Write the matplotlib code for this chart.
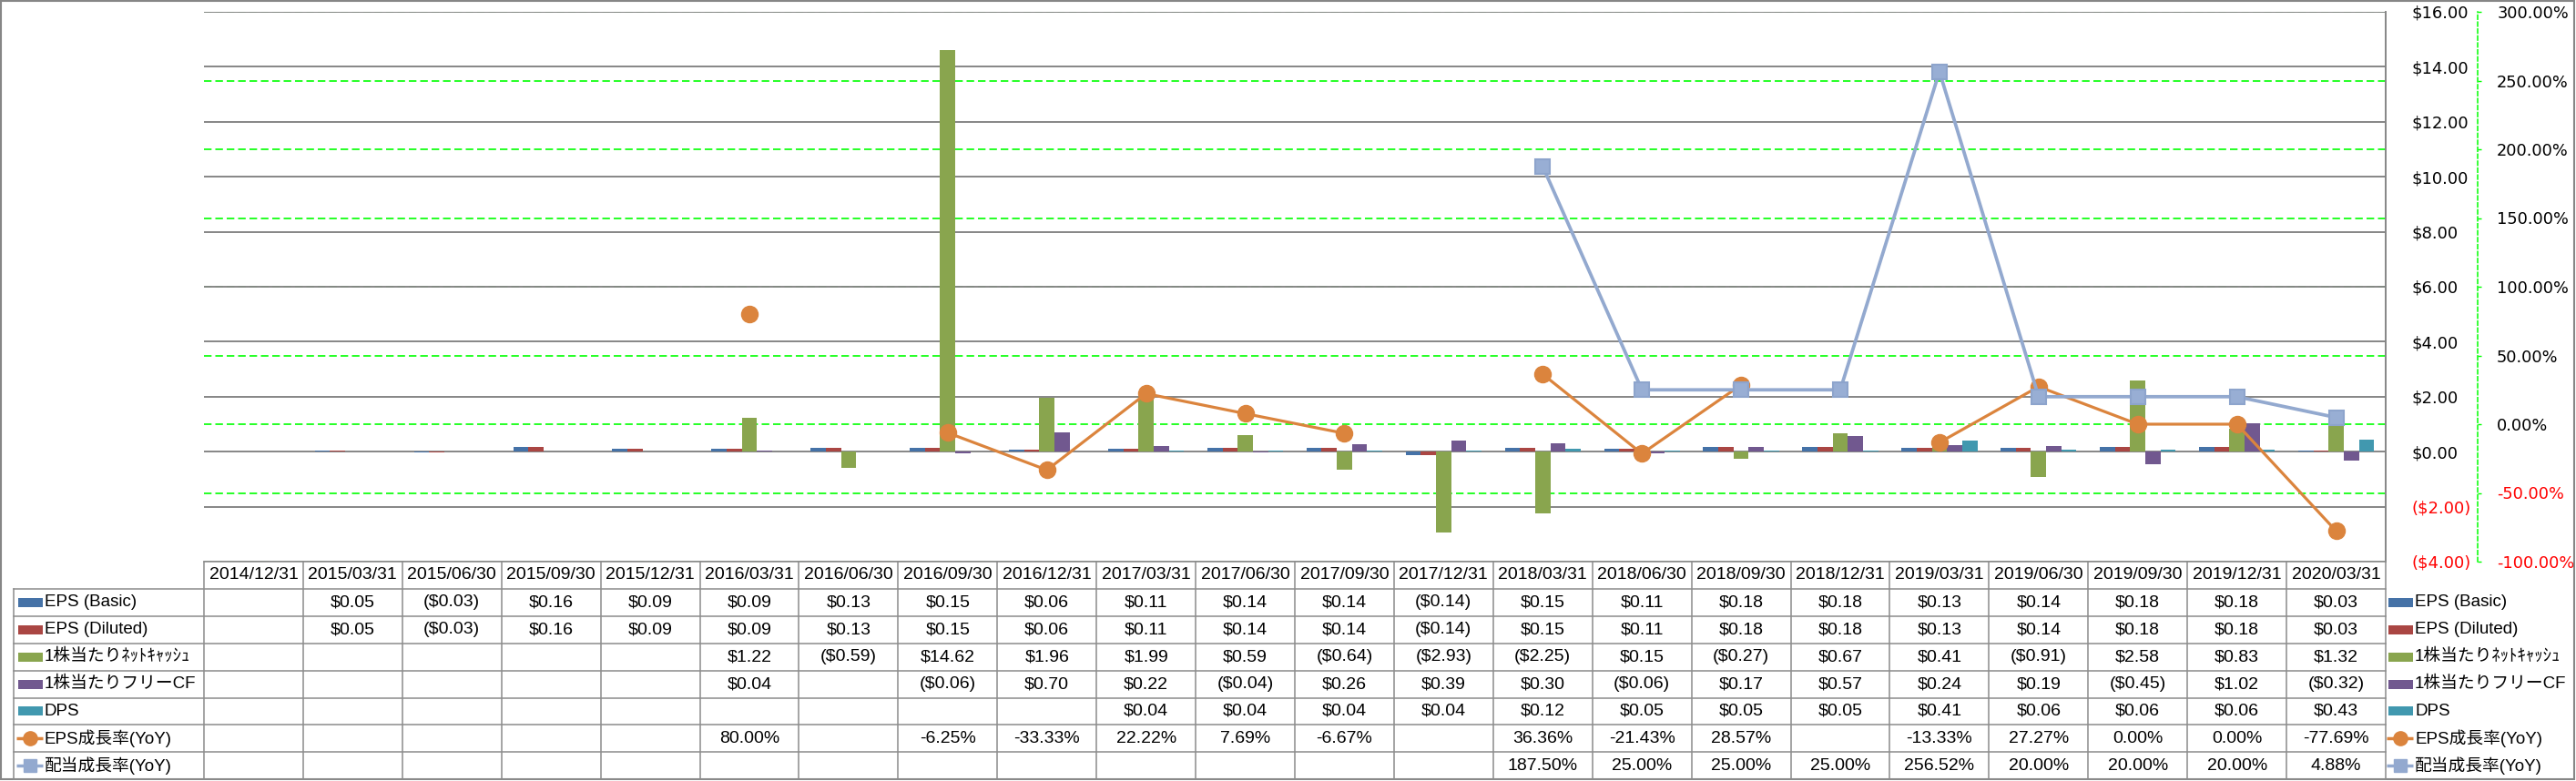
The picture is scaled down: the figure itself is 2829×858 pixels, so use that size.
import numpy as np
import matplotlib
matplotlib.use('Agg')
import matplotlib.pyplot as plt
from matplotlib.patches import Rectangle

nan = np.nan

# ---------------- data ----------------
dates = ['2014/12/31', '2015/03/31', '2015/06/30', '2015/09/30', '2015/12/31',
         '2016/03/31', '2016/06/30', '2016/09/30', '2016/12/31', '2017/03/31',
         '2017/06/30', '2017/09/30', '2017/12/31', '2018/03/31', '2018/06/30',
         '2018/09/30', '2018/12/31', '2019/03/31', '2019/06/30', '2019/09/30',
         '2019/12/31', '2020/03/31']

eps_basic = [nan, 0.05, -0.03, 0.16, 0.09, 0.09, 0.13, 0.15, 0.06, 0.11, 0.14,
             0.14, -0.14, 0.15, 0.11, 0.18, 0.18, 0.13, 0.14, 0.18, 0.18, 0.03]
eps_diluted = [nan, 0.05, -0.03, 0.16, 0.09, 0.09, 0.13, 0.15, 0.06, 0.11, 0.14,
               0.14, -0.14, 0.15, 0.11, 0.18, 0.18, 0.13, 0.14, 0.18, 0.18, 0.03]
net_cash_ps = [nan, nan, nan, nan, nan, 1.22, -0.59, 14.62, 1.96, 1.99, 0.59,
               -0.64, -2.93, -2.25, 0.15, -0.27, 0.67, 0.41, -0.91, 2.58, 0.83, 1.32]
fcf_ps = [nan, nan, nan, nan, nan, 0.04, nan, -0.06, 0.70, 0.22, -0.04,
          0.26, 0.39, 0.30, -0.06, 0.17, 0.57, 0.24, 0.19, -0.45, 1.02, -0.32]
dps = [nan, nan, nan, nan, nan, nan, nan, nan, nan, 0.04, 0.04,
       0.04, 0.04, 0.12, 0.05, 0.05, 0.05, 0.41, 0.06, 0.06, 0.06, 0.43]
eps_growth = [nan, nan, nan, nan, nan, 80.00, nan, -6.25, -33.33, 22.22, 7.69,
              -6.67, nan, 36.36, -21.43, 28.57, nan, -13.33, 27.27, 0.00, 0.00, -77.69]
div_growth = [nan, nan, nan, nan, nan, nan, nan, nan, nan, nan, nan,
              nan, nan, 187.50, 25.00, 25.00, 25.00, 256.52, 20.00, 20.00, 20.00, 4.88]

bar_names = ['EPS (Basic)', 'EPS (Diluted)', '1株当たりﾈｯﾄｷｬｯｼｭ', '1株当たりフリーCF', 'DPS']
line_names = ['EPS成長率(YoY)', '配当成長率(YoY)']
bar_colors = ['#4572A7', '#AA4643', '#89A54E', '#71588F', '#4198AF']
line_colors = ['#DB843D', '#93A9CF']

y1_ticks = list(range(-4, 17, 2))
y2_ticks = list(range(-100, 301, 50))

# ---------------- layout ----------------
W, H = 2829, 858
fig = plt.figure(figsize=(W / 100, H / 100), dpi=100)

def fx(px):
    return px / W

def fy(py):
    return 1 - py / H

PL, PR, PT, PB = 224, 2620, 13, 617
ax = fig.add_axes([fx(PL), fy(PB), fx(PR) - fx(PL), fy(PT) - fy(PB)])
n = len(dates)
x = np.arange(n)
ax.set_xlim(-0.5, n - 0.5)
ax.set_ylim(y1_ticks[0], y1_ticks[-1])
ax.set_xticks([])
ax.patch.set_visible(False)

ax2 = ax.twinx()
ax2.set_ylim(y2_ticks[0], y2_ticks[-1])

GRAY = '#868686'
GREEN = '#00FF00'
TICK_FONT = 'DejaVu Sans'
TABLE_FONT = ['Liberation Sans', 'Noto Sans CJK JP']

# gridlines
ax.set_axisbelow(True)
ax.yaxis.grid(True, color=GRAY, lw=1.4)
lo1, hi1 = ax.get_ylim()
lo2, hi2 = ax2.get_ylim()
for p in y2_ticks:
    yp = lo1 + (p - lo2) * (hi1 - lo1) / (hi2 - lo2)
    ax.axhline(yp, color=GREEN, lw=1.2, ls=(0, (5, 2.5)), zorder=0.4)

# bars
bw = 0.153
bar_series = [eps_basic, eps_diluted, net_cash_ps, fcf_ps, dps]
for k, (vals, col) in enumerate(zip(bar_series, bar_colors)):
    v = np.array(vals, dtype=float)
    ax.bar(x + (k - 2) * bw, np.nan_to_num(v), width=bw, color=col,
           edgecolor='none', zorder=2)

# lines
ax2.plot(x, eps_growth, color=line_colors[0], lw=2.3, marker='o', ms=13,
         mfc=line_colors[0], mec=line_colors[0], zorder=3)
ax2.plot(x, div_growth, color=line_colors[1], lw=2.7, marker='s', ms=12,
         mfc='#98AED4', mec='#8DA4CC', mew=1.5, zorder=4)

# axes formatting
def money(v):
    if v < 0:
        return '(${:.2f})'.format(-v)
    return '${:.2f}'.format(v)

def pct(v):
    return '{:.2f}%'.format(v)

for s in ['top', 'left', 'bottom']:
    ax.spines[s].set_visible(False)
    ax2.spines[s].set_visible(False)
ax.spines['right'].set_color(GRAY)
ax.spines['right'].set_linewidth(1.4)
ax2.spines['right'].set_position(('outward', 101 * 0.72))
ax2.spines['right'].set_color(GREEN)
ax2.spines['right'].set_linestyle((0, (3, 2)))
ax2.spines['right'].set_linewidth(1.1)

ax.yaxis.tick_right()
ax.set_yticks(y1_ticks, [money(v) for v in y1_ticks])
ax.tick_params(axis='y', which='both', left=False, right=True, labelleft=False,
               labelright=True, length=0, pad=29 * 0.72, labelsize=13,
               labelfontfamily=TICK_FONT)

ax2.set_yticks(y2_ticks, [pct(v) for v in y2_ticks])
ax2.tick_params(axis='y', length=3, width=1, color=GREEN, direction='out',
                pad=17 * 0.72, labelsize=12.8, labelfontfamily=TICK_FONT)

fig.canvas.draw()
for a, vals in [(ax, y1_ticks), (ax2, y2_ticks)]:
    for tick in a.yaxis.get_major_ticks():
        v = tick.get_loc()
        col = 'red' if v < 0 else 'black'
        tick.label1.set_color(col)
        tick.label2.set_color(col)
        tick.label2.set_horizontalalignment('left')

# ---------------- data table ----------------
tax = fig.add_axes([0, 0, 1, 1])
tax.set_xlim(0, W)
tax.set_ylim(H, 0)
tax.axis('off')
tax.set_zorder(5)

edges = [ax.transData.transform((i - 0.5, 0))[0] for i in range(n + 1)]
centers = [ax.transData.transform((i, 0))[0] for i in range(n)]

TOP = PB
ROWH = 29.9
NROWS = 8
BOTTOM = TOP + ROWH * NROWS
TL = 15
LC = '#8C8C8C'
LW = 1.1

tax.plot([edges[0], edges[-1]], [TOP, TOP], color=LC, lw=LW)
for k in range(1, NROWS + 1):
    yk = TOP + k * ROWH
    tax.plot([TL, edges[-1]], [yk, yk], color=LC, lw=LW)
tax.plot([TL, TL], [TOP + ROWH, BOTTOM], color=LC, lw=LW)
for e in edges:
    tax.plot([e, e], [TOP, BOTTOM], color=LC, lw=LW)

FS = 14
for i, d in enumerate(dates):
    tax.text(centers[i], TOP + ROWH * 0.5, d, ha='center', va='center',
             fontsize=FS, family=TABLE_FONT)

all_series = bar_series + [eps_growth, div_growth]
all_names = bar_names + line_names
for r, (vals, name) in enumerate(zip(all_series, all_names)):
    yc = TOP + ROWH * (r + 1.5)
    fmt = money if r < 5 else pct
    for i, v in enumerate(vals):
        if not np.isnan(v):
            tax.text(centers[i], yc, fmt(v), ha='center', va='center',
                     fontsize=FS, family=TABLE_FONT)
    # keys in the table and in the side legend
    for kx, tx in [(20, 49), (2623, 2652)]:
        if r < 5:
            tax.add_patch(Rectangle((kx, yc - 5), 27, 10, color=bar_colors[r], lw=0))
        else:
            lc = line_colors[r - 5]
            tax.plot([kx - 2, kx + 27], [yc, yc], color=lc, lw=2.5,
                     solid_capstyle='butt')
            tax.plot([kx + 12.5], [yc], marker='o' if r == 5 else 's',
                     ms=11 if r == 5 else 10, color=lc)
        tax.text(tx, yc, name, ha='left', va='center', fontsize=FS - 0.5,
                 family=TABLE_FONT)

# outer chart border
tax.add_patch(Rectangle((1, 1), W - 3, H - 3, fill=False, ec=GRAY, lw=1.5))

fig.savefig('out.png', dpi=100)
